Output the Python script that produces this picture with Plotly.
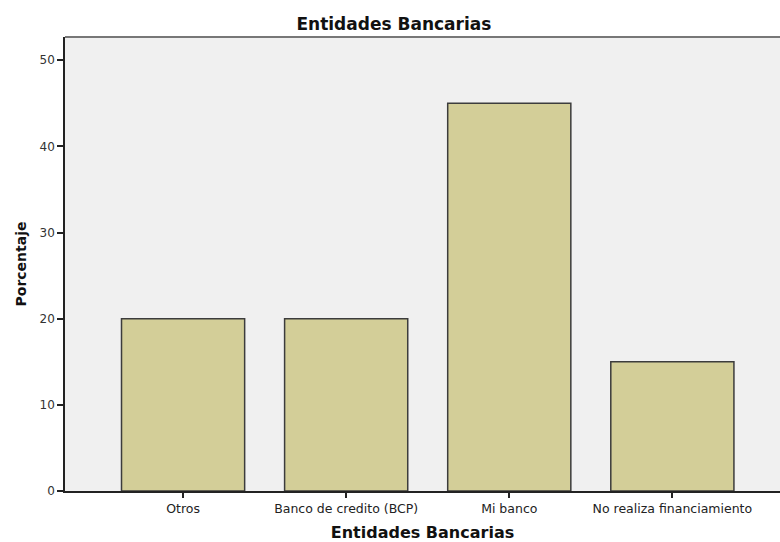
import plotly.graph_objects as go

categorias = ["Otros", "Banco de credito (BCP)", "Mi banco", "No realiza financiamiento"]
porcentajes = [20, 20, 45, 15]
y_ticks = [0, 10, 20, 30, 40, 50]

fuente = "DejaVu Sans, Liberation Sans, Arial, sans-serif"

fig = go.Figure()
fig.add_trace(go.Bar(
    x=list(range(len(categorias))),
    y=porcentajes,
    width=0.755,
    marker=dict(color="#d3ce98", line=dict(color="#3c3c3c", width=1.5)),
    hoverinfo="y",
))

fig.update_layout(
    width=780, height=542,
    margin=dict(l=65, r=0, t=37, b=51),
    paper_bgcolor="white",
    plot_bgcolor="#f0f0f0",
    showlegend=False,
    title=dict(text="<b>Entidades Bancarias</b>", x=0.505, xanchor="center",
               y=1 - 24 / 542, yanchor="middle",
               font=dict(family=fuente, size=17, color="#111")),
    font=dict(family=fuente, size=12, color="#333"),
)

fig.update_xaxes(
    range=[-0.724, 3.66],
    tickmode="array", tickvals=list(range(len(categorias))), ticktext=categorias,
    ticks="outside", ticklen=5, tickcolor="#222", tickwidth=1.5,
    showline=True, linecolor="#222", linewidth=1.5,
    showgrid=False, zeroline=False,
    tickfont=dict(size=12.5, color="#222"),
    title=dict(text="<b>Entidades Bancarias</b>", standoff=14,
               font=dict(size=16, color="#111")),
)
fig.update_yaxes(
    range=[0, 52.7],
    tickmode="array", tickvals=y_ticks,
    ticks="outside", ticklen=6, tickcolor="#222", tickwidth=1.5,
    showline=True, linecolor="#222", linewidth=1.5,
    showgrid=False, zeroline=False,
    tickfont=dict(size=12, color="#333"),
    title=dict(text="<b>Porcentaje</b>", standoff=10,
               font=dict(size=14, color="#111")),
)

# borde superior gris del área de trazado
fig.add_shape(type="line", xref="paper", yref="paper", x0=0, x1=1, y0=1, y1=1,
              line=dict(color="#777", width=2))

fig.write_html("out.html", config={"displayModeBar": False},
               post_script="document.body.style.margin='0';")
